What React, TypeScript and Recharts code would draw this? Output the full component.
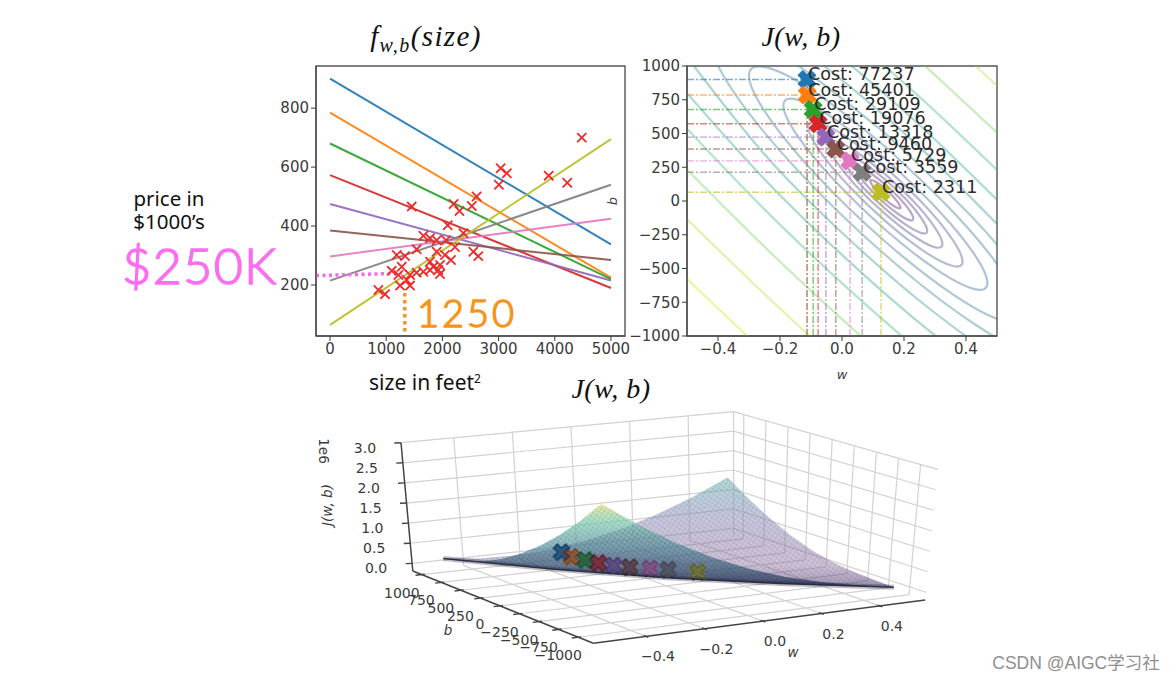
import React from "react";
import {
  ComposedChart,
  ScatterChart,
  Scatter,
  Line,
  XAxis,
  YAxis,
  ReferenceArea,
} from "recharts";

// one colour per gradient descent step
const stepColors = ["#1f77b4", "#ff7f0e", "#2ca02c", "#d62728", "#9467bd", "#8c564b", "#e377c2", "#7f7f7f", "#bcbd22"];
const stepW = [-0.113, -0.112, -0.093, -0.077, -0.052, -0.02, 0.026, 0.065, 0.126];
const stepB = [900, 785, 678, 572, 473, 385, 297, 213, 65];
const stepCost = [77237, 45401, 29109, 19076, 13318, 9460, 5729, 3559, 2311];

// fitted lines, read at size = 0 and size = 5000
const lineAtZero = [900, 785, 680, 573, 475, 385, 297, 215, 65];
const lineAtEnd = [338, 225, 220, 190, 215, 285, 425, 540, 695];

const houseSize = [4480, 3892, 4222, 3037, 3147, 3006, 2609, 2523, 2200, 2303, 1454, 2094, 1661, 1898, 1779, 2064, 2373, 2224, 1542, 1186, 1335, 1898, 2046, 2153, 2550, 2639, 1779, 1838, 1957, 1927, 1957, 1779, 1098, 1276, 1216, 1424, 1542, 1660, 1365, 1246, 1424, 860, 979];
const housePrice = [700, 571, 547, 596, 579, 540, 500, 468, 475, 451, 466, 403, 367, 352, 359, 352, 376, 329, 321, 302, 298, 313, 302, 285, 313, 298, 279, 262, 268, 251, 237, 251, 248, 262, 234, 234, 242, 245, 217, 198, 198, 183, 169];

const sizeTicks = [0, 1000, 2000, 3000, 4000, 5000];
const priceTicks = [200, 400, 600, 800];
const wTicks = [-0.4, -0.2, 0, 0.2, 0.4];
const bTicks = [-1000, -750, -500, -250, 0, 250, 500, 750, 1000];
const jTicks = [0, 0.5, 1, 1.5, 2, 2.5, 3];

// closed contour rings
const ringW = [
  [0.14, 0.164, 0.182, 0.189, 0.182, 0.164, 0.14, 0.116, 0.098, 0.091, 0.098, 0.116, 0.14],
  [0.14, 0.185, 0.218, 0.23, 0.218, 0.185, 0.14, 0.095, 0.062, 0.05, 0.062, 0.095, 0.14],
  [0.14, 0.208, 0.257, 0.275, 0.257, 0.208, 0.14, 0.072, 0.023, 0.005, 0.023, 0.072, 0.14],
  [0.14, 0.232, 0.299, 0.324, 0.299, 0.232, 0.14, 0.048, -0.019, -0.044, -0.019, 0.048, 0.14],
  [0.14, 0.264, 0.355, 0.389, 0.355, 0.264, 0.14, 0.016, -0.075, -0.109, -0.075, 0.016, 0.14],
  [0.14, 0.304, 0.425, 0.469, 0.425, 0.304, 0.14, -0.024, -0.145, -0.189, -0.145, -0.024, 0.14],
  [0.14, 0.36, 0.521, 0.58, 0.521, 0.36, 0.14, -0.08, -0.241, -0.3, -0.241, -0.08, 0.14],
  [0.14, 0.421, 0.627, 0.703, 0.627, 0.421, 0.14, -0.141, -0.347, -0.423, -0.347, -0.141, 0.14],
];
const ringB = [
  [89, 35, -15, -48, -54, -33, 11, 65, 115, 148, 154, 133, 89],
  [122, 22, -70, -130, -142, -102, -22, 78, 170, 230, 242, 202, 122],
  [158, 9, -130, -220, -238, -179, -58, 91, 230, 320, 338, 279, 158],
  [197, -6, -195, -318, -342, -261, -97, 106, 295, 418, 442, 361, 197],
  [249, -26, -281, -448, -480, -371, -149, 126, 381, 548, 580, 471, 249],
  [313, -51, -388, -608, -651, -507, -213, 151, 488, 708, 751, 607, 313],
  [402, -85, -536, -830, -888, -695, -302, 185, 636, 930, 988, 795, 402],
  [500, -123, -699, -1075, -1149, -902, -400, 223, 799, 1175, 1249, 1002, 500],
];
const ringColors = ["#46085c", "#481a6c", "#472a7a", "#433d84", "#3d4e8a", "#355e8d", "#2e6d8e", "#277f8e"];

// outer contours only show as two long arcs
const arcW = [-0.5, -0.25, 0, 0.25, 0.5];
const arcLowB = [
  [1066, 346, -235, -739, -1169],
  [799, 161, -399, -903, -1349],
  [536, -62, -608, -1111, -1570],
  [234, -339, -875, -1377, -1845],
  [-134, -689, -1217, -1719, -2194],
  [-577, -1120, -1642, -2143, -2624],
];
const arcHighB = [
  [1594, 1314, 895, 399, -171],
  [1861, 1499, 1059, 563, 9],
  [2124, 1722, 1268, 771, 230],
  [2426, 1999, 1535, 1037, 505],
  [2794, 2349, 1877, 1379, 854],
];
const arcColors = ["#21918c", "#1f9e89", "#35b779", "#6ece58", "#b5de2b", "#d8e219"];

// surface edges as w, b and J (in 1e6)
const edgeStepW = [-0.5, -0.375, -0.25, -0.125, 0, 0.125, 0.25, 0.375, 0.5];
const edgeStepB = [1000, 750, 500, 250, 0, -250, -500, -750, -1000];
const topEdgeJ = [0.145, 0.051, 0.03, 0.081, 0.205, 0.401, 0.67, 1.011, 1.425];
const rightEdgeJ = [1.425, 1.046, 0.73, 0.476, 0.285, 0.156, 0.09, 0.06, 0.04];
const leftEdgeJ = [0.145, 0.266, 0.45, 0.696, 1.005, 1.376, 1.81, 2.306, 2.865];
const lowEdgeJ = [2.865, 2.271, 1.75, 1.301, 0.925, 0.621, 0.39, 0.2, 0.04];
const valleyW = [-0.5, -0.25, 0, 0.25, 0.5];
const valleyB = [1000, 500, 0, -500, -1000];
const valleyJ = [0.145, 0.06, 0.01, 0.01, 0.04];

// 3d box limits and where its corners land on the page
const W_MIN = -0.58, W_MAX = 0.555, B_MAX = 1115, B_MIN = -1194, J_MIN = -0.19, J_MAX = 3.0;
const floorCorners = [[412.8, 571], [593.4, 643.3], [925.2, 600], [733.6, 535.7]];
const roofCorners = [[401, 442.7], [593, 506], [937.8, 469.3], [733.6, 411.7]];

const project = (w: number, b: number, j: number) => {
  const u = (w - W_MIN) / (W_MAX - W_MIN);
  const v = (B_MAX - b) / (B_MAX - B_MIN);
  const t = (j - J_MIN) / (J_MAX - J_MIN);
  const mix = (c: number[][], k: number) =>
    (1 - u) * ((1 - v) * c[0][k] + v * c[1][k]) + u * (v * c[2][k] + (1 - v) * c[3][k]);
  return {
    x: (1 - t) * mix(floorCorners, 0) + t * mix(roofCorners, 0),
    y: (1 - t) * mix(floorCorners, 1) + t * mix(roofCorners, 1),
  };
};

const mono = "DejaVu Sans";
const inkTick = "#3a3a3a";
const Blank = () => null;

const xMarkPath = (cx: number, cy: number, s: number) => {
  const pts = [[0.25, 0], [0.5, 0.25], [0.75, 0], [1, 0.25], [0.75, 0.5], [1, 0.75], [0.75, 1], [0.5, 0.75], [0.25, 1], [0, 0.75], [0.25, 0.5], [0, 0.25]];
  return "M" + pts.map((p) => `${cx + (p[0] - 0.5) * s} ${cy + (p[1] - 0.5) * s}`).join("L") + "Z";
};

const Cross = ({ cx, cy }: any) => (
  <path
    d={`M${cx - 4.6} ${cy - 4.6}L${cx + 4.6} ${cy + 4.6}M${cx - 4.6} ${cy + 4.6}L${cx + 4.6} ${cy - 4.6}`}
    stroke="#ee2a2a"
    strokeWidth={1.8}
    fill="none"
  />
);

const BigX = ({ cx, cy, payload }: any) => (
  <path
    d={xMarkPath(cx, cy, payload.size ?? 16)}
    fill={payload.color}
    fillOpacity={payload.alpha ?? 1}
    stroke={payload.color}
    strokeOpacity={payload.alpha ?? 1}
    strokeWidth={1.6}
    strokeLinejoin="round"
  />
);

const CostLabel = ({ cx, cy, payload }: any) => (
  <text x={cx + 1} y={cy + 0.5} fontFamily={mono} fontSize={17.6} fill="#2b2b2b">
    {`Cost: ${payload.cost}`}
  </text>
);

const TickText = ({ cx, cy, payload }: any) => (
  <text x={cx} y={cy} fontFamily={mono} fontSize={14} fill={inkTick} textAnchor="middle" dominantBaseline="central">
    {payload.label}
  </text>
);

const fmtMinus = (v: number) => String(v).replace("-", "\u2212");
const fmtOne = (v: number) => v.toFixed(1).replace("-", "\u2212");

const Caption = ({ x, y, style, children }: any) => (
  <div
    style={{
      position: "absolute",
      left: x,
      top: y,
      transform: "translate(-50%, -50%)",
      whiteSpace: "nowrap",
      ...style,
    }}
  >
    {children}
  </div>
);

const mathFont = { fontFamily: "Liberation Serif", fontStyle: "italic", fontSize: 29, letterSpacing: 1.4, color: "#111" };
const costFont = { ...mathFont, fontSize: 28, letterSpacing: 0.5 };
const noteFont = { fontFamily: "Noto Sans", fontSize: 20.5, color: "#111" };
const tickFont = { fontFamily: mono, fontSize: 15, fill: inkTick };

const FitChart = () => {
  const houses = houseSize.map((x, i) => ({ x, y: housePrice[i] }));
  return (
    <ComposedChart width={400} height={330} margin={{ top: 16, right: 25, bottom: 0, left: 0 }}>
      <XAxis dataKey="x" type="number" domain={[-250, 5250]} ticks={sizeTicks} height={44} tickSize={5} stroke={inkTick} tick={tickFont} allowDataOverflow />
      <YAxis dataKey="y" type="number" domain={[27, 943]} ticks={priceTicks} width={66} tickSize={5} stroke={inkTick} tick={tickFont} allowDataOverflow />
      {lineAtZero.map((y0, i) => (
        <Line key={i} data={[{ x: 0, y: y0 }, { x: 5000, y: lineAtEnd[i] }]} dataKey="y" stroke={stepColors[i]} strokeWidth={2} strokeOpacity={0.92} dot={false} isAnimationActive={false} />
      ))}
      <Scatter data={houses} dataKey="y" shape={Cross} isAnimationActive={false} />
      <Line data={[{ x: -250, y: 232 }, { x: 1280, y: 240 }]} dataKey="y" stroke="#f766ea" strokeWidth={3.5} strokeDasharray="3 3.5" dot={false} isAnimationActive={false} />
      <Line data={[{ x: 1331, y: 173 }, { x: 1331, y: 41 }]} dataKey="y" stroke="#f7941d" strokeWidth={3.5} strokeDasharray="3.5 3.5" dot={false} isAnimationActive={false} />
      <ReferenceArea x1={-250} x2={5250} y1={27} y2={943} fill="none" stroke="#555" strokeWidth={1.4} />
    </ComposedChart>
  );
};

const ContourChart = () => {
  const steps = stepW.map((x, i) => ({ x, y: stepB[i], color: stepColors[i], cost: stepCost[i], size: 17 }));
  return (
    <ComposedChart width={387} height={330} margin={{ top: 16, right: 20, bottom: 0, left: 0 }}>
      <XAxis dataKey="x" type="number" domain={[-0.5, 0.5]} ticks={wTicks} tickFormatter={fmtOne} height={44} tickSize={5} stroke={inkTick} tick={tickFont} allowDataOverflow />
      <YAxis dataKey="y" type="number" domain={[-1000, 1000]} ticks={bTicks} tickFormatter={fmtMinus} width={57} tickSize={5} stroke={inkTick} tick={tickFont} allowDataOverflow />
      {ringW.map((ws, i) => (
        <Line key={`ring-${i}`} type="natural" data={ws.map((x, k) => ({ x, y: ringB[i][k] }))} dataKey="y" stroke={ringColors[i]} strokeOpacity={0.38} strokeWidth={2.2} dot={false} isAnimationActive={false} />
      ))}
      {arcLowB.map((bs, i) => (
        <Line key={`low-${i}`} type="natural" data={arcW.map((x, k) => ({ x, y: bs[k] }))} dataKey="y" stroke={arcColors[i]} strokeOpacity={0.38} strokeWidth={2.2} dot={false} isAnimationActive={false} />
      ))}
      {arcHighB.map((bs, i) => (
        <Line key={`high-${i}`} type="natural" data={arcW.map((x, k) => ({ x, y: bs[k] }))} dataKey="y" stroke={arcColors[i]} strokeOpacity={0.38} strokeWidth={2.2} dot={false} isAnimationActive={false} />
      ))}
      {stepW.map((w, i) => (
        <Line key={`h-${i}`} data={[{ x: -0.5, y: stepB[i] }, { x: w, y: stepB[i] }]} dataKey="y" stroke={stepColors[i]} strokeOpacity={0.6} strokeWidth={1.4} strokeDasharray="7 2 2 2" dot={false} isAnimationActive={false} />
      ))}
      {stepW.map((w, i) => (
        <Line key={`v-${i}`} data={[{ x: w, y: -1000 }, { x: w, y: stepB[i] }]} dataKey="y" stroke={stepColors[i]} strokeOpacity={0.6} strokeWidth={1.4} strokeDasharray="7 2 2 2" dot={false} isAnimationActive={false} />
      ))}
      <Scatter data={steps} dataKey="y" shape={BigX} isAnimationActive={false} />
      <Scatter data={steps} dataKey="y" shape={CostLabel} isAnimationActive={false} />
      <ReferenceArea x1={-0.5} x2={0.5} y1={-1000} y2={1000} fill="none" stroke="#555" strokeWidth={1.4} />
    </ComposedChart>
  );
};

const Seg = (key: string, pts: { x: number; y: number }[], stroke: string, width: number, opacity = 1) => (
  <Scatter key={key} data={pts} shape={Blank} line={{ stroke, strokeWidth: width, strokeOpacity: opacity, fill: "none" }} isAnimationActive={false} />
);

const Poly = (key: string, pts: { x: number; y: number }[], fill: string) => (
  <Scatter key={key} data={pts} shape={Blank} line={{ stroke: "none", fill }} isAnimationActive={false} />
);

const SurfaceChart = () => {
  const gridInk = "#d2d2d2";
  const axisInk = "#444";
  const grid: React.ReactNode[] = [];
  wTicks.forEach((w) => {
    grid.push(Seg(`fw${w}`, [project(w, B_MAX, J_MIN), project(w, B_MIN, J_MIN)], gridInk, 1.2));
    grid.push(Seg(`ww${w}`, [project(w, B_MAX, J_MIN), project(w, B_MAX, J_MAX)], gridInk, 1.2));
  });
  bTicks.forEach((b) => {
    grid.push(Seg(`fb${b}`, [project(W_MIN, b, J_MIN), project(W_MAX, b, J_MIN)], gridInk, 1.2));
    grid.push(Seg(`wb${b}`, [project(W_MAX, b, J_MIN), project(W_MAX, b, J_MAX)], gridInk, 1.2));
  });
  jTicks.forEach((j) => {
    grid.push(Seg(`lj${j}`, [project(W_MIN, B_MAX, j), project(W_MAX, B_MAX, j)], gridInk, 1.2));
    grid.push(Seg(`rj${j}`, [project(W_MAX, B_MAX, j), project(W_MAX, B_MIN, j)], gridInk, 1.2));
  });
  grid.push(Seg("back", [project(W_MAX, B_MAX, J_MIN), project(W_MAX, B_MAX, J_MAX)], gridInk, 1.2));

  const valley = valleyW.map((w, i) => project(w, valleyB[i], valleyJ[i])).reverse();
  const back = [
    ...edgeStepW.map((w, i) => project(w, 1000, topEdgeJ[i])),
    ...edgeStepB.map((b, i) => project(0.5, b, rightEdgeJ[i])),
    ...valley,
  ];
  const front = [
    ...edgeStepB.map((b, i) => project(-0.5, b, leftEdgeJ[i])),
    ...edgeStepW.map((w, i) => project(w, -1000, lowEdgeJ[i])),
    ...valley,
  ];

  const marks = stepW.map((w, i) => ({
    ...project(w, stepB[i], stepCost[i] / 1e6),
    color: stepColors[i],
    size: 16.5,
    alpha: 0.85,
  }));
  // the surface lies over the markers, so they read darker
  const markShade = marks.map((m) => ({ ...m, color: "#1c2340", alpha: 0.42 }));

  const axisTicks: React.ReactNode[] = [];
  jTicks.forEach((j) => axisTicks.push(Seg(`tj${j}`, [project(W_MIN, B_MAX, j), project(W_MIN - 0.02, B_MAX + 10, j)], axisInk, 1.4)));
  bTicks.forEach((b) => axisTicks.push(Seg(`tb${b}`, [project(W_MIN + 0.01, b, J_MIN), project(W_MIN - 0.022, b, J_MIN)], axisInk, 1.4)));
  wTicks.forEach((w) => axisTicks.push(Seg(`tw${w}`, [project(w, B_MIN + 30, J_MIN), project(w, B_MIN - 30, J_MIN)], axisInk, 1.4)));

  const offset = (p: { x: number; y: number }, dx: number, dy: number, label: string) => ({ x: p.x + dx, y: p.y + dy, label });
  const labels = [
    ...jTicks.map((j) => offset(project(W_MIN, B_MAX, j), -36, 5, j.toFixed(1))),
    ...bTicks.map((b) => offset(project(W_MIN, b, J_MIN), -20, 18, fmtMinus(b))),
    ...wTicks.map((w) => offset(project(w, B_MIN, J_MIN), 12, 20, fmtOne(w))),
  ];

  return (
    <ScatterChart width={660} height={299} margin={{ top: 0, right: 0, bottom: 0, left: 0 }}>
      <XAxis dataKey="x" type="number" domain={[300, 960]} hide allowDataOverflow />
      <YAxis dataKey="y" type="number" domain={[380, 679]} reversed hide allowDataOverflow />
      {grid}
      {Poly("backFill", back, "url(#backShade)")}
      {Poly("frontFill", front, "url(#frontShade)")}
      <Scatter data={marks} shape={BigX} isAnimationActive={false} />
      <Scatter data={markShade} shape={BigX} isAnimationActive={false} />
      {Poly("backMesh", back, "url(#mesh)")}
      {Poly("frontMesh", front, "url(#mesh)")}
      {Seg("valleySoft", valley, "#23263a", 5, 0.3)}
      {Seg("valleyDark", valley, "#23263a", 1.5, 0.9)}
      {Seg("zAxis", [project(W_MIN, B_MAX, J_MIN), project(W_MIN, B_MAX, J_MAX)], axisInk, 1.5)}
      {Seg("bAxis", [project(W_MIN, B_MAX, J_MIN), project(W_MIN, B_MIN, J_MIN)], axisInk, 1.5)}
      {Seg("wAxis", [project(W_MIN, B_MIN, J_MIN), project(W_MAX, B_MIN, J_MIN)], axisInk, 1.5)}
      {axisTicks}
      <Scatter data={labels} shape={TickText} isAnimationActive={false} />
    </ScatterChart>
  );
};

export default function App() {
  return (
    <div style={{ position: "absolute", left: 0, top: 0, width: 1176, height: 679, overflow: "hidden", background: "#fff" }}>
      <svg width={0} height={0} style={{ position: "absolute" }}>
        <defs>
          <linearGradient id="backShade" x1="0" y1="0" x2="0" y2="1">
            <stop offset="0" stopColor="#6fb7b6" stopOpacity={0.55} />
            <stop offset="0.35" stopColor="#8f8fbb" stopOpacity={0.5} />
            <stop offset="0.8" stopColor="#8d6a9c" stopOpacity={0.42} />
            <stop offset="1" stopColor="#5a4a78" stopOpacity={0.6} />
          </linearGradient>
          <linearGradient id="frontShade" x1="0" y1="0" x2="0" y2="1">
            <stop offset="0" stopColor="#e6e27a" stopOpacity={0.75} />
            <stop offset="0.22" stopColor="#7fd0b4" stopOpacity={0.7} />
            <stop offset="0.55" stopColor="#3f7f90" stopOpacity={0.6} />
            <stop offset="1" stopColor="#262a55" stopOpacity={0.75} />
          </linearGradient>
          <pattern id="mesh" width={4} height={4} patternUnits="userSpaceOnUse" patternTransform="rotate(35)">
            <path d="M0 0H4M0 0V4" stroke="#3b4a60" strokeOpacity={0.3} strokeWidth={0.7} fill="none" />
          </pattern>
        </defs>
      </svg>

      <div style={{ position: "absolute", left: 250, top: 50 }}>
        <FitChart />
      </div>
      <div style={{ position: "absolute", left: 630, top: 50 }}>
        <ContourChart />
      </div>
      <div style={{ position: "absolute", left: 300, top: 380 }}>
        <SurfaceChart />
      </div>

      <Caption x={426} y={36} style={mathFont}>
        f<sub style={{ fontSize: 20, verticalAlign: -6, lineHeight: 0 }}>w,b</sub>(size)
      </Caption>
      <Caption x={801} y={37} style={costFont}>J(w, b)</Caption>
      <Caption x={611} y={389} style={costFont}>J(w, b)</Caption>

      <Caption x={169} y={198} style={noteFont}>price in</Caption>
      <Caption x={169} y={221} style={noteFont}>$1000’s</Caption>
      <Caption x={425} y={382} style={{ ...noteFont, fontSize: 21 }}>
        size in feet<sup style={{ fontSize: 12, verticalAlign: 7, lineHeight: 0 }}>2</sup>
      </Caption>

      <Caption x={200} y={265} style={{ fontFamily: "Lato", fontWeight: 300, fontSize: 50, letterSpacing: 1.5, color: "#fb6ef0", WebkitTextStroke: "1.6px #fb6ef0" }}>$250K</Caption>
      <Caption x={467} y={312} style={{ fontFamily: "Lato", fontWeight: 300, fontSize: 38, letterSpacing: 3, color: "#f7941d", WebkitTextStroke: "1.5px #f7941d" }}>1250</Caption>

      <Caption x={612} y={201} style={{ fontFamily: mono, fontStyle: "italic", fontSize: 13, color: inkTick, transform: "translate(-50%, -50%) rotate(-90deg)" }}>b</Caption>
      <Caption x={842} y={374} style={{ fontFamily: mono, fontStyle: "italic", fontSize: 13, color: inkTick }}>w</Caption>

      <Caption x={324} y={451} style={{ fontFamily: mono, fontSize: 13.5, color: inkTick, transform: "translate(-50%, -50%) rotate(90deg)" }}>1e6</Caption>
      <Caption x={327} y={505} style={{ fontFamily: mono, fontStyle: "italic", fontSize: 13.5, color: inkTick, transform: "translate(-50%, -50%) rotate(-90deg)" }}>J(w, b)</Caption>
      <Caption x={448} y={630} style={{ fontFamily: mono, fontStyle: "italic", fontSize: 13.5, color: inkTick }}>b</Caption>
      <Caption x={793} y={652} style={{ fontFamily: mono, fontStyle: "italic", fontSize: 13.5, color: inkTick }}>w</Caption>

      <Caption x={1076} y={661} style={{ fontFamily: "Liberation Sans, Noto Sans CJK SC", fontSize: 17.5, color: "#8f8f8f" }}>CSDN @AIGC学习社</Caption>
    </div>
  );
}
